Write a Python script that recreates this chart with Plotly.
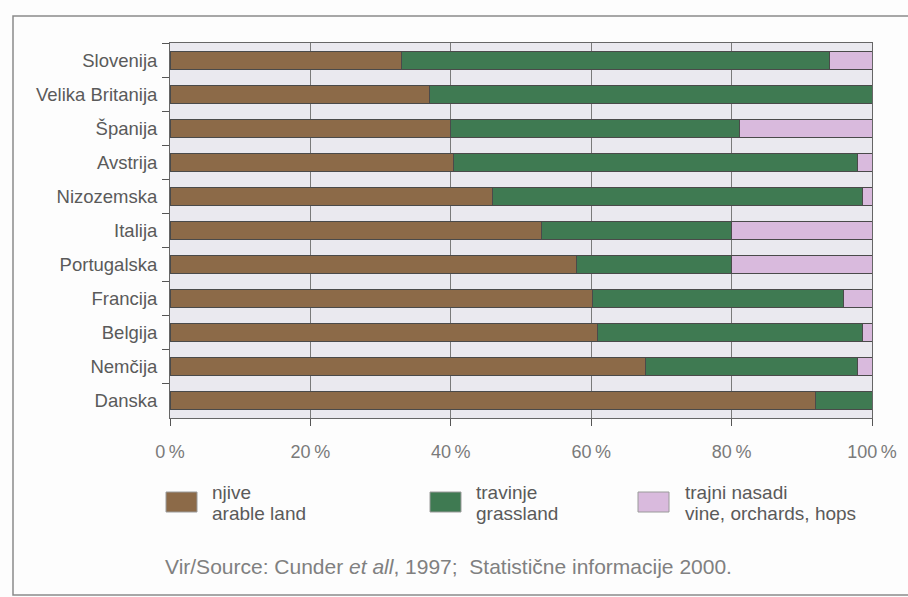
import plotly.graph_objects as go

countries = ["Slovenija", "Velika Britanija", "Španija", "Avstrija", "Nizozemska", "Italija",
             "Portugalska", "Francija", "Belgija", "Nemčija", "Danska"]
arable = [33.0, 37.0, 40.0, 40.4, 45.9, 52.9, 57.9, 60.2, 60.9, 67.8, 92.0]
grassland = [61.0, 63.0, 41.1, 57.6, 52.8, 27.1, 22.1, 35.8, 37.7, 30.2, 8.0]
permanent = [6.0, 0.0, 18.9, 2.0, 1.3, 20.0, 20.0, 4.0, 1.4, 2.0, 0.0]

tick_vals = [0, 20, 40, 60, 80, 100]
tick_text = ["0\u2009%", "20\u2009%", "40\u2009%", "60\u2009%", "80\u2009%", "100\u2009%"]

series_names = [("njive", "arable land"), ("travinje", "grassland"),
                ("trajni nasadi", "vine, orchards, hops")]
colors = ["#8c6a48", "#3f7a52", "#d9badd"]

W, H = 908, 597
L, R, T, B = 170, 872, 43, 418

fig = go.Figure()
for vals, col, nm in zip([arable, grassland, permanent], colors, series_names):
    fig.add_trace(go.Bar(y=countries, x=vals, orientation="h", marker_color=col,
                         marker_line=dict(color="#4a4a4a", width=1), name=nm[0],
                         showlegend=False))

def px(x):
    return (x - L) / (R - L)

def py(y):
    return (B - y) / (B - T)

shapes = [
    # outer frame (open on the right)
    dict(type="rect", xref="paper", yref="paper", x0=px(13), x1=px(930), y0=py(16), y1=py(595),
         line=dict(color="#8a8a8a", width=1.5), fillcolor="rgba(0,0,0,0)", layer="below"),
]
annotations = []
legend_x = [166, 430, 638]
text_x = [210, 474, 683]
for i, (nm, col) in enumerate(zip(series_names, colors)):
    shapes.append(dict(type="rect", xref="paper", yref="paper",
                       x0=px(legend_x[i]), x1=px(legend_x[i] + 31), y0=py(512), y1=py(492),
                       fillcolor=col, line=dict(color="#9a9a9a", width=1)))
    annotations.append(dict(xref="paper", yref="paper", x=px(text_x[i]), y=py(492),
                            text=nm[0], showarrow=False, xanchor="left", yanchor="middle",
                            font=dict(size=19, color="#5a5a5a")))
    annotations.append(dict(xref="paper", yref="paper", x=px(text_x[i]), y=py(513),
                            text=nm[1], showarrow=False, xanchor="left", yanchor="middle",
                            font=dict(size=19, color="#5a5a5a")))

annotations.append(dict(xref="paper", yref="paper", x=px(163), y=py(566),
                        text="Vir/Source: Cunder <i>et all</i>, 1997;  Statistične informacije 2000.",
                        showarrow=False, xanchor="left", yanchor="middle",
                        font=dict(size=21, color="#808080")))

fig.update_layout(
    width=W, height=H,
    margin=dict(l=L, r=W - R, t=T, b=H - B),
    barmode="stack", bargap=0.47,
    plot_bgcolor="#eae9ef", paper_bgcolor="#fdfdfd",
    font=dict(family="Liberation Sans, Arial, sans-serif"),
    shapes=shapes, annotations=annotations,
    xaxis=dict(range=[0, 100], tickvals=tick_vals, ticktext=tick_text,
               showgrid=True, gridcolor="#7a7a7a", gridwidth=1,
               ticks="outside", ticklen=7, tickcolor="#555555",
               showline=True, linecolor="#666666", mirror=True,
               tickfont=dict(size=18, color="#7a7a7a"), zeroline=False,
               ticklabelstandoff=10),
    yaxis=dict(categoryorder="array", categoryarray=countries, autorange="reversed",
               ticks="outside", ticklen=7, tickcolor="#555555", tickson="boundaries",
               showline=True, linecolor="#666666", mirror=True, showgrid=False,
               tickfont=dict(size=18.5, color="#5a5a5a"), ticklabelstandoff=8),
)

fig.write_html("out.html")
